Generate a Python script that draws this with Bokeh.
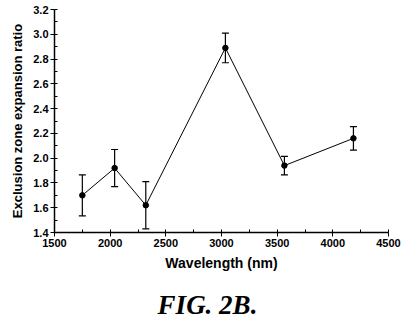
from bokeh.plotting import figure
from bokeh.models import (ColumnDataSource, Whisker, TeeHead, FixedTicker,
                          LinearAxis, Range1d)
from bokeh.embed import file_html
from bokeh.resources import INLINE

# Measured exclusion zone expansion ratio per wavelength, with error
wavelength_nm = [1750, 2040, 2320, 3035, 3565, 4185]
ratio = [1.70, 1.92, 1.62, 2.89, 1.94, 2.16]
error = [0.165, 0.15, 0.19, 0.12, 0.075, 0.095]

x_ticks = [1500, 2000, 2500, 3000, 3500, 4000, 4500]
y_ticks = [1.4, 1.6, 1.8, 2.0, 2.2, 2.4, 2.6, 2.8, 3.0, 3.2]

caption = "FIG. 2B."

src = ColumnDataSource(dict(
    x=wavelength_nm,
    y=ratio,
    lo=[r - e for r, e in zip(ratio, error)],
    hi=[r + e for r, e in zip(ratio, error)],
))

p = figure(width=407, height=324, x_range=(1500, 4500), y_range=(1.4, 3.2),
           output_backend="svg", toolbar_location=None,
           min_border_left=54, min_border_right=19, min_border_top=9,
           min_border_bottom=92)
p.outline_line_color = None
p.grid.visible = False
p.background_fill_color = "white"
p.border_fill_color = "white"

p.line("x", "y", source=src, line_color="black", line_width=1)
p.scatter("x", "y", source=src, size=5.5, color="black")
p.add_layout(Whisker(source=src, base="x", upper="hi", lower="lo",
                     line_color="black", line_width=1.2,
                     upper_head=TeeHead(size=7, line_color="black", line_width=1.2),
                     lower_head=TeeHead(size=7, line_color="black", line_width=1.2)))

font = "Liberation Sans"
for ax in (p.xaxis[0], p.yaxis[0]):
    ax.axis_line_color = "black"
    ax.axis_line_width = 1.5
    ax.major_tick_line_color = "black"
    ax.minor_tick_line_color = "black"
    ax.major_tick_out = 4
    ax.major_tick_in = 0
    ax.minor_tick_out = 0
    ax.minor_tick_in = 3
    ax.major_label_text_font = font
    ax.major_label_text_font_style = "bold"
    ax.major_label_text_font_size = "11px"
    ax.major_label_text_color = "black"
    ax.axis_label_text_font = font
    ax.axis_label_text_font_style = "bold"
    ax.axis_label_text_color = "black"

p.xaxis.ticker = FixedTicker(ticks=x_ticks,
                             minor_ticks=[x_ticks[0] + 250 * i for i in range(13)])
p.yaxis.ticker = FixedTicker(ticks=y_ticks,
                             minor_ticks=[1.4 + 0.1 * i for i in range(19)])
p.yaxis.major_label_overrides = {t: f"{t:.1f}" for t in y_ticks}

p.xaxis.axis_label = "Wavelength (nm)"
p.xaxis.axis_label_text_font_size = "14px"
p.xaxis.major_label_standoff = 2
p.xaxis.axis_label_standoff = 5

p.yaxis.axis_label = "Exclusion zone expansion ratio"
p.yaxis.axis_label_text_font_size = "13px"
p.yaxis.major_label_standoff = 2
p.yaxis.axis_label_standoff = 5

# Figure caption: a bare axis below the x axis whose single label sits at the
# page centre (frame is 334 px wide, page centre is 153 px from its left edge)
p.extra_x_ranges = {"caption": Range1d(0, 334)}
cap_axis = LinearAxis(x_range_name="caption", ticker=FixedTicker(ticks=[153]),
                      major_label_overrides={153: caption},
                      axis_line_color=None, major_tick_line_color=None,
                      minor_tick_line_color=None, major_tick_out=0, major_tick_in=0,
                      minor_tick_out=0, minor_tick_in=0, major_label_standoff=16,
                      major_label_text_font="Liberation Serif",
                      major_label_text_font_style="bold italic",
                      major_label_text_font_size="27px",
                      major_label_text_color="black")
p.add_layout(cap_axis, "below")

open("out.html", "w").write(file_html(p, INLINE))
